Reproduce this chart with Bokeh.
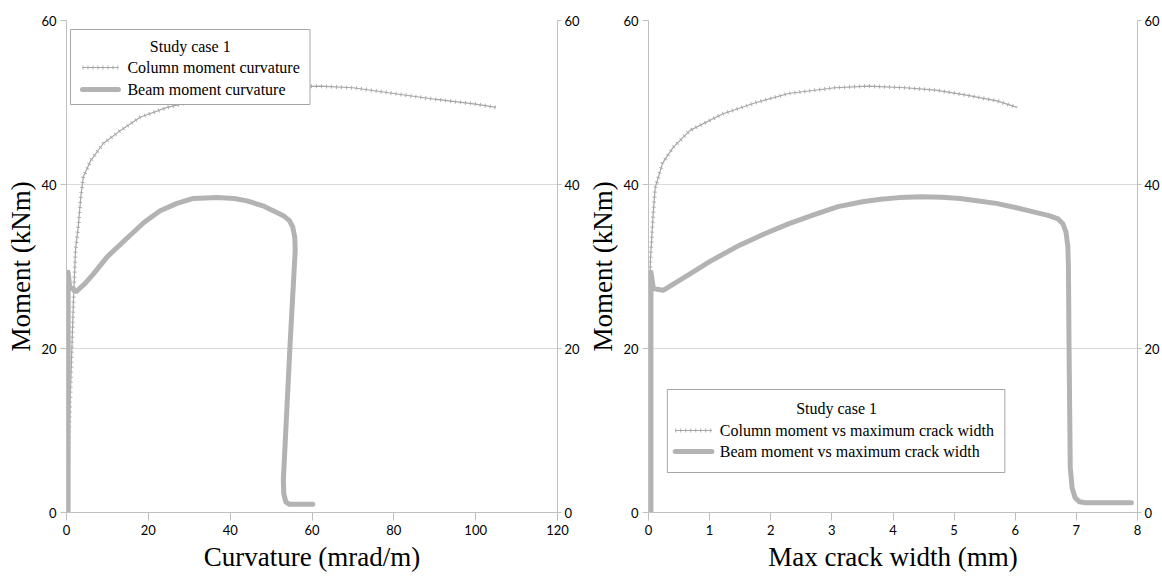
from bokeh.plotting import figure
from bokeh.models import Range1d, LinearAxis, FixedTicker
from bokeh.core.properties import value
from bokeh.layouts import row
from bokeh.embed import file_html
from bokeh.resources import INLINE

# ---- Data: left chart (moment vs curvature) ----
col_curv_x = [0, 1.7, 2.2, 2.9, 3.5, 4.1, 5.9, 9.0, 13.2, 18.0, 24.6, 35, 45, 55, 62, 70, 80, 90, 100, 105]
col_curv_y = [0, 25.9, 32.0, 35.0, 38.5, 40.9, 42.9, 45.0, 46.6, 48.2, 49.4, 50.6, 51.4, 51.9, 52.0, 51.8, 51.1, 50.4, 49.8, 49.4]
beam_curv_x = [0.4, 0.4, 0.8, 2.4, 4.5, 6.6, 10.0, 14.9, 19.0, 22.9, 27.0, 31.0, 36.8, 41.0, 44.1, 48.0,
               50.5, 53.0, 54.5, 55.3, 55.8, 55.9, 54.6, 53.0, 53.1, 53.6, 54.5, 60.2]
beam_curv_y = [0, 29.3, 27.5, 26.95, 27.9, 29.1, 31.2, 33.5, 35.4, 36.8, 37.7, 38.3, 38.4, 38.3, 38.0, 37.4,
               36.8, 36.2, 35.6, 34.8, 33.5, 32.0, 20.1, 4.0, 2.3, 1.3, 1.0, 1.0]

# ---- Data: right chart (moment vs max crack width) ----
col_crack_x = [0, 0.03, 0.08, 0.11, 0.23, 0.40, 0.68, 1.21, 1.76, 2.29, 3.05, 3.6, 4.2, 4.7, 5.2, 5.7, 6.03]
col_crack_y = [0, 30.7, 36.8, 39.6, 42.6, 44.5, 46.6, 48.6, 50.0, 51.1, 51.8, 52.0, 51.8, 51.5, 50.9, 50.2, 49.4]
beam_crack_x = [0.04, 0.04, 0.08, 0.24, 0.68, 1.0, 1.49, 1.9, 2.29, 2.7, 3.1, 3.5, 3.8, 4.1, 4.47, 4.8, 5.1,
                5.4, 5.69, 6.0, 6.33, 6.55, 6.70, 6.78, 6.83, 6.86, 6.87, 6.88, 6.90, 6.93, 6.98, 7.05, 7.15, 7.90]
beam_crack_y = [0, 29.3, 27.3, 27.1, 29.1, 30.6, 32.6, 34.0, 35.2, 36.3, 37.3, 37.9, 38.2, 38.4, 38.5, 38.45, 38.3,
                38.0, 37.7, 37.2, 36.6, 36.2, 35.8, 35.2, 34.2, 32.5, 30.0, 20.1, 5.5, 3.0, 1.8, 1.3, 1.2, 1.2]

y_ticks = [0, 20, 40, 60]
x_ticks_left = [0, 20, 40, 60, 80, 100, 120]
x_ticks_right = [0, 1, 2, 3, 4, 5, 6, 7, 8]

legend_title = "Study case 1"
left_labels = ["Column moment curvature", "Beam moment curvature"]
right_labels = ["Column moment vs maximum crack width", "Beam moment vs maximum crack width"]

SERIF = "Liberation Serif"
SANS = "Lato"
COL_COLOR = "#a6a6a6"
BEAM_COLOR = "#b3b3b3"
AXIS_COLOR = "#bfbfbf"
GRID_COLOR = "#d9d9d9"
YMAX = 60


def style_axis(ax, ticks):
    ax.ticker = FixedTicker(ticks=ticks)
    ax.axis_line_color = AXIS_COLOR
    ax.major_tick_line_color = AXIS_COLOR
    ax.minor_tick_line_color = None
    ax.major_tick_in = 0
    ax.major_tick_out = 6
    ax.major_label_text_font = SANS
    ax.major_label_text_font_size = "13px"
    ax.major_label_text_color = "#000000"
    ax.major_label_standoff = 4
    ax.axis_label_text_font = SERIF
    ax.axis_label_text_font_size = "27px"
    ax.axis_label_text_font_style = "normal"
    ax.axis_label_text_color = "#000000"


def make_plot(width, xmax, xticks, xlabel, cx, cy, bx, by, labels, leg, right_border, left_border):
    fw = width - left_border - right_border
    fh = 576 - 20 - 64
    p = figure(width=width, height=576, output_backend="svg", toolbar_location=None,
               x_range=Range1d(0, xmax), y_range=Range1d(0, YMAX),
               min_border_left=left_border, min_border_right=right_border,
               min_border_top=20, min_border_bottom=64)
    p.outline_line_color = None
    p.background_fill_color = "white"
    p.border_fill_color = "white"
    p.xgrid.grid_line_color = None
    p.ygrid.grid_line_color = GRID_COLOR
    p.ygrid.ticker = FixedTicker(ticks=y_ticks)

    style_axis(p.xaxis[0], xticks)
    p.xaxis[0].axis_label = xlabel
    p.xaxis[0].major_tick_out = 8
    p.xaxis[0].axis_label_standoff = 4
    style_axis(p.yaxis[0], y_ticks)
    p.yaxis[0].axis_label = "Moment (kNm)"
    p.yaxis[0].axis_label_standoff = 2

    ry = LinearAxis()
    style_axis(ry, y_ticks)
    ry.major_tick_out = 4
    ry.major_label_standoff = 3
    p.add_layout(ry, "right")

    p.line(cx, cy, line_color=COL_COLOR, line_width=1.2)
    p.line(cx, cy, line_color=COL_COLOR, line_width=4, line_dash="1 4", line_alpha=0.9)
    p.line(bx, by, line_color=BEAM_COLOR, line_width=5, line_join="round", line_cap="round")

    # legend drawn as glyphs; positions given as pixel offsets from the frame's top-left
    def X(px):
        return px / fw * xmax

    def Y(py):
        return YMAX - py / fh * YMAX

    (bl, br, bt, bb), (tx, ty), (s0, s1), (e1, e2), tx0 = leg
    p.quad(left=[X(bl)], right=[X(br)], top=[Y(bt)], bottom=[Y(bb)],
           fill_color="white", line_color="#a6a6a6", line_width=1)
    p.text(x=[X(tx)], y=[Y(ty)], text=[legend_title], text_align="center", text_baseline="middle",
           text_font=value(SERIF), text_font_size=value("16px"), text_color="#000000")
    p.line([X(s0), X(s1)], [Y(e1), Y(e1)], line_color=COL_COLOR, line_width=1.2)
    p.line([X(s0), X(s1)], [Y(e1), Y(e1)], line_color=COL_COLOR, line_width=4, line_dash="1 4", line_alpha=0.9)
    p.line([X(s0), X(s1)], [Y(e2), Y(e2)], line_color=BEAM_COLOR, line_width=5, line_cap="round")
    p.text(x=[X(tx0), X(tx0)], y=[Y(e1), Y(e2)], text=labels, text_align="left", text_baseline="middle",
           text_font=value(SERIF), text_font_size=value("16px"), text_color="#000000")
    return p


left_leg = ((4, 244, 9, 84), (124, 26), (16, 52), (47, 69), 61)
right_leg = ((19, 360, 369, 452), (190, 388), (27, 64), (410, 431), 72)

p1 = make_plot(582, 120, x_ticks_left, "Curvature (mrad/m)",
               col_curv_x, col_curv_y, beam_curv_x, beam_curv_y, left_labels, left_leg, 24, 66)
p2 = make_plot(580, 8, x_ticks_right, "Max crack width (mm)",
               col_crack_x, col_crack_y, beam_crack_x, beam_crack_y, right_labels, right_leg, 20, 66)

layout = row(p1, p2)
open("out.html", "w").write(file_html(layout, INLINE))
